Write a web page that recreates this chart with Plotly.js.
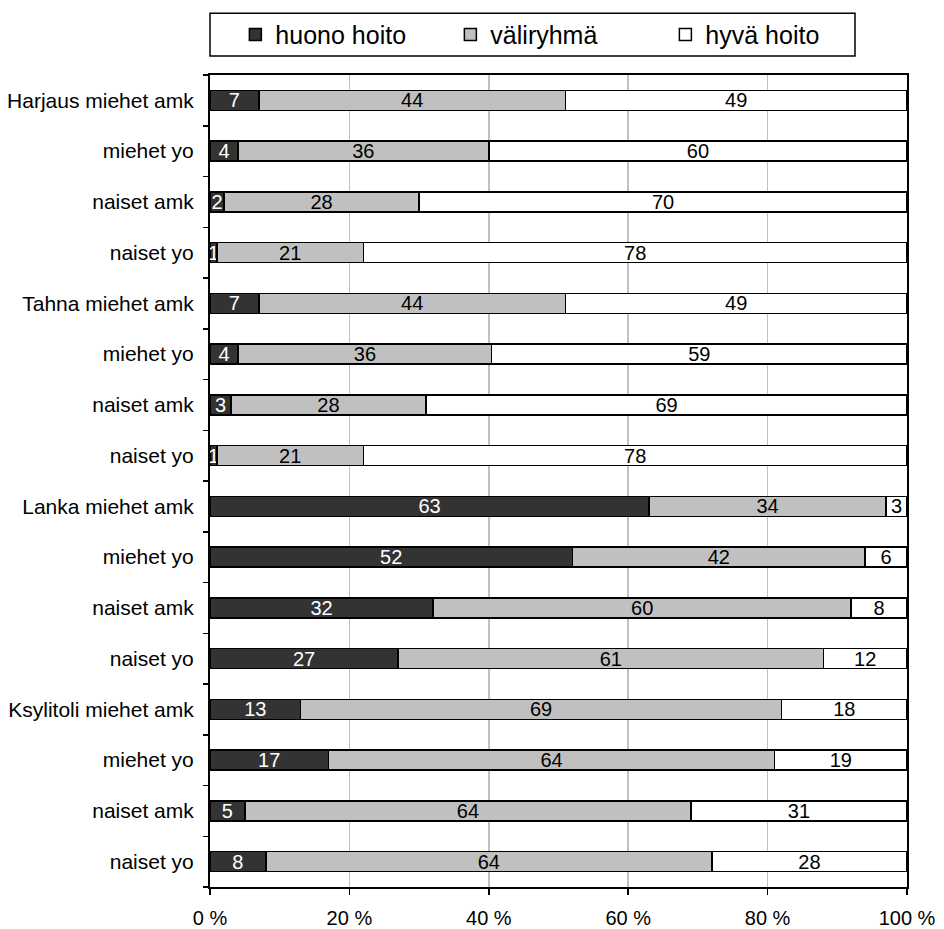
<!DOCTYPE html>
<html>
<head>
<meta charset="utf-8">
<script src="https://cdn.plot.ly/plotly-3.0.1.min.js"></script>
<style>html,body{margin:0;padding:0;background:#fff;}#chart{width:944px;height:929px;}</style>
</head>
<body>
<div id="chart"></div>
<script>
const categories = ["Harjaus miehet amk","miehet yo","naiset amk","naiset yo",
  "Tahna miehet amk","miehet yo","naiset amk","naiset yo",
  "Lanka miehet amk","miehet yo","naiset amk","naiset yo",
  "Ksylitoli miehet amk","miehet yo","naiset amk","naiset yo"];
const seriesNames = ["huono hoito","väliryhmä","hyvä hoito"];
const huono = [7,4,2,1,7,4,3,1,63,52,32,27,13,17,5,8];
const vali  = [44,36,28,21,44,36,28,21,34,42,60,61,69,64,64,64];
const hyva  = [49,60,70,78,49,59,69,78,3,6,8,12,18,19,31,28];
const xTicks = [0,20,40,60,80,100];
const xTickText = ["0 %","20 %","40 %","60 %","80 %","100 %"];

const rows = categories.map((_, i) => i);
const boundaries = [-0.5].concat(rows.map(i => i + 0.5));
const font = "Liberation Sans, Arial, sans-serif";

function mk(name, vals, fill, txtColor) {
  return {
    type: "bar", orientation: "h", name: name,
    x: vals, y: rows, text: vals.map(String), texttemplate: "%{text}",
    textposition: "inside", insidetextanchor: "middle", textangle: 0,
    constraintext: "none", cliponaxis: false,
    insidetextfont: {family: font, size: 20, color: txtColor},
    marker: {color: fill, line: {color: "#000", width: 1.5}},
    hoverinfo: "skip"
  };
}
const data = [
  mk(seriesNames[0], huono, "#333333", "#ffffff"),
  mk(seriesNames[1], vali, "#c0c0c0", "#000000"),
  mk(seriesNames[2], hyva, "#ffffff", "#000000"),
  {type: "scatter", x: [0], y: [0], yaxis: "y2", mode: "markers",
   marker: {opacity: 0}, showlegend: false, hoverinfo: "skip"}
];

const layout = {
  width: 944, height: 929,
  margin: {l: 210, r: 37, t: 72, b: 42},
  paper_bgcolor: "#fff", plot_bgcolor: "#fff",
  barmode: "stack", barnorm: "percent", bargap: 0.61,
  uniformtext: {mode: "show", minsize: 20},
  font: {family: font, color: "#000"},
  showlegend: true,
  legend: {orientation: "h", x: 0.0364, xanchor: "left", y: 1.0497, yanchor: "middle",
    font: {family: font, size: 25, color: "#000"}, entrywidth: 170, traceorder: "normal",
    bgcolor: "rgba(0,0,0,0)", borderwidth: 0},
  xaxis: {range: [0, 100], tickvals: xTicks, ticktext: xTickText,
    ticks: "outside", ticklen: 6, tickwidth: 1.5, tickcolor: "#000", ticklabelstandoff: 6,
    showgrid: true, gridcolor: "#c0c0c0", gridwidth: 1.5,
    showline: true, linecolor: "#000", linewidth: 2, mirror: true,
    zeroline: false, tickfont: {family: font, size: 20, color: "#000"}, fixedrange: true},
  yaxis: {range: [15.5, -0.5], tickvals: rows, ticktext: categories,
    ticks: "outside", ticklen: 10, tickcolor: "rgba(0,0,0,0)",
    showline: true, linecolor: "#000", linewidth: 2, mirror: true,
    showgrid: false, zeroline: false,
    tickfont: {family: font, size: 21, color: "#000"}, fixedrange: true},
  yaxis2: {overlaying: "y", side: "left", range: [15.5, -0.5], tickvals: boundaries,
    ticks: "outside", ticklen: 6, tickwidth: 1.5, tickcolor: "#000",
    showticklabels: false, showgrid: false, zeroline: false, showline: false, fixedrange: true},
  shapes: [{type: "rect", xref: "paper", yref: "paper",
    x0: 0, x1: (855 - 210) / 697, y0: (887 - 53) / 815, y1: (887 - 10) / 815,
    line: {color: "#000", width: 1.5}, fillcolor: "rgba(0,0,0,0)"}]
};
Plotly.newPlot("chart", data, layout, {displayModeBar: false, staticPlot: true});
</script>
</body>
</html>
